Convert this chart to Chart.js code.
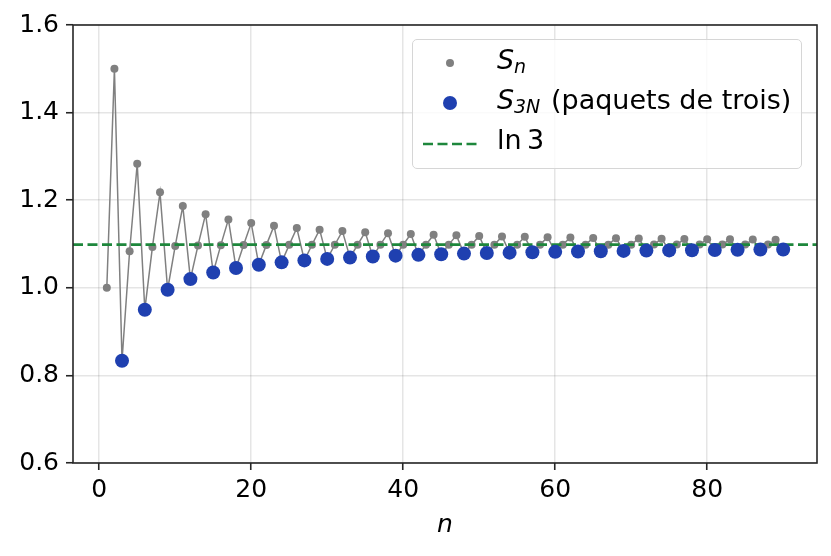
<!DOCTYPE html>
<html>
<head>
<meta charset="utf-8">
<script src="https://cdn.jsdelivr.net/npm/chart.js@4.4.1/dist/chart.umd.min.js"></script>
<style>
  html, body { margin: 0; padding: 0; background: #fff; }
  #wrap { position: relative; width: 831px; height: 556px; }
  #c { position: absolute; left: 0; top: 0; }
  #legend {
    position: absolute; left: 412px; top: 39px; width: 388px; height: 128px;
    border: 1.6px solid #d6d6d6; border-radius: 5px; background: rgba(255,255,255,0.8);
    font-family: "DejaVu Sans", sans-serif; font-size: 27px; color: #000;
  }
  .row { position: absolute; left: 0; width: 385px; height: 30px; line-height: 30px; white-space: nowrap; }
  .txt { position: absolute; left: 84px; top: -3px; }
  .mk { position: absolute; border-radius: 50%; }
  .sub { position: absolute; font-size: 19px; font-style: italic; }
</style>
</head>
<body>
<div id="wrap">
  <canvas id="c" width="831" height="556"></canvas>
  <div id="legend">
    <div class="row" style="top:8px;">
      <span class="mk" style="left:33px;top:11px;width:8px;height:8px;background:#808080;"></span>
      <span class="txt"><i>S</i></span>
      <span class="sub" style="left:101px;top:3px;">n</span>
    </div>
    <div class="row" style="top:48px;">
      <span class="mk" style="left:30px;top:8px;width:14px;height:14px;background:#1f40b0;"></span>
      <span class="txt"><i>S</i></span>
      <span class="sub" style="left:101px;top:3px;">3N</span>
      <span class="txt" style="left:138px;">(paquets de trois)</span>
    </div>
    <div class="row" style="top:88px;">
      <svg style="position:absolute;left:9px;top:0;" width="56" height="30"><line x1="1" y1="16" x2="55" y2="16" stroke="#1e873c" stroke-width="2.6" stroke-dasharray="10,4.5"/></svg>
      <span class="txt">ln&thinsp;3</span>
    </div>
  </div>
</div>
<script>
// ---- data ----
const sn = [1.0000,1.5000,0.8333,1.0833,1.2833,0.9500,1.0929,1.2179,0.9956,1.0956,1.1865,1.0199,
  1.0968,1.1682,1.0349,1.0974,1.1562,1.0451,1.0977,1.1477,1.0525,1.0980,1.1414,1.0581,
  1.0981,1.1366,1.0625,1.0982,1.1327,1.0660,1.0983,1.1295,1.0689,1.0983,1.1269,1.0713,
  1.0984,1.1247,1.0734,1.0984,1.1228,1.0752,1.0984,1.1212,1.0767,1.0985,1.1197,1.0781,
  1.0985,1.1185,1.0793,1.0985,1.1174,1.0803,1.0985,1.1164,1.0813,1.0985,1.1155,1.0821,
  1.0985,1.1147,1.0829,1.0985,1.1139,1.0836,1.0985,1.1132,1.0843,1.0985,1.1126,1.0849,
  1.0986,1.1121,1.0854,1.0986,1.1115,1.0859,1.0986,1.1111,1.0864,1.0986,1.1106,1.0868,
  1.0986,1.1102,1.0872,1.0986,1.1098,1.0876];
const s3nN = [3,6,9,12,15,18,21,24,27,30,33,36,39,42,45,48,51,54,57,60,63,66,69,72,75,78,81,84,87,90];
const s3n = [0.8333,0.9500,0.9956,1.0199,1.0349,1.0451,1.0525,1.0581,1.0625,1.0660,1.0689,1.0713,
  1.0734,1.0752,1.0767,1.0781,1.0793,1.0803,1.0813,1.0821,1.0829,1.0836,1.0843,1.0849,
  1.0854,1.0859,1.0864,1.0868,1.0872,1.0876];
const ln3 = 1.0986;
const xTicks = [0, 20, 40, 60, 80];
const yTicks = [0.6, 0.8, 1.0, 1.2, 1.4, 1.6];
const xMin = -3.45, xMax = 94.45, yMin = 0.6, yMax = 1.6;

const FONT = "DejaVu Sans";
const frame = {
  id: 'frame',
  afterDraw(chart) {
    const a = chart.chartArea, ctx = chart.ctx;
    ctx.save();
    ctx.strokeStyle = '#262626';
    ctx.lineWidth = 1.6;
    ctx.strokeRect(a.left, a.top, a.right - a.left, a.bottom - a.top);
    ctx.restore();
  }
};

new Chart(document.getElementById('c'), {
  type: 'scatter',
  data: {
    datasets: [
      {
        label: 'S_n',
        data: sn.map((v, i) => ({ x: i + 1, y: v })),
        showLine: true,
        borderColor: '#808080',
        borderWidth: 1.5,
        pointRadius: 4,
        pointBackgroundColor: '#808080',
        pointBorderWidth: 0,
        order: 3
      },
      {
        label: 'S_3N (paquets de trois)',
        data: s3nN.map((n, i) => ({ x: n, y: s3n[i] })),
        showLine: false,
        pointRadius: 7,
        pointBackgroundColor: '#1f40b0',
        pointBorderWidth: 0,
        order: 1
      },
      {
        label: 'ln 3',
        data: [{ x: xMin, y: ln3 }, { x: xMax, y: ln3 }],
        showLine: true,
        borderColor: '#1e873c',
        borderWidth: 2.6,
        borderDash: [10, 4.5],
        pointRadius: 0,
        order: 2
      }
    ]
  },
  options: {
    responsive: false,
    animation: false,
    devicePixelRatio: 1,
    layout: { padding: { left: 0, right: 14, top: 25, bottom: 0 } },
    plugins: { legend: { display: false }, tooltip: { enabled: false } },
    scales: {
      x: {
        type: 'linear', min: xMin, max: xMax,
        afterFit(s) { s.height = 93; },
        afterBuildTicks(s) { s.ticks = xTicks.map(v => ({ value: v })); },
        ticks: { font: { family: FONT, size: 25 }, color: '#000', padding: 5, maxRotation: 0,
                 callback: v => String(v) },
        grid: { color: 'rgba(0,0,0,0.1)', lineWidth: 1.5, tickColor: '#262626', tickLength: 7, tickWidth: 1.6 },
        border: { display: false },
        title: { display: true, text: 'n', color: '#000',
                 font: { family: FONT, size: 25, style: 'italic' }, padding: { top: 0, bottom: 16 } }
      },
      y: {
        type: 'linear', min: yMin, max: yMax,
        afterFit(s) { s.width = 73; },
        afterBuildTicks(s) { s.ticks = yTicks.map(v => ({ value: v })); },
        ticks: { font: { family: FONT, size: 25 }, color: '#000', padding: 7,
                 callback: v => v.toFixed(1) },
        grid: { color: 'rgba(0,0,0,0.1)', lineWidth: 1.5, tickColor: '#262626', tickLength: 7, tickWidth: 1.6 },
        border: { display: false }
      }
    }
  },
  plugins: [frame]
});
</script>
</body>
</html>
